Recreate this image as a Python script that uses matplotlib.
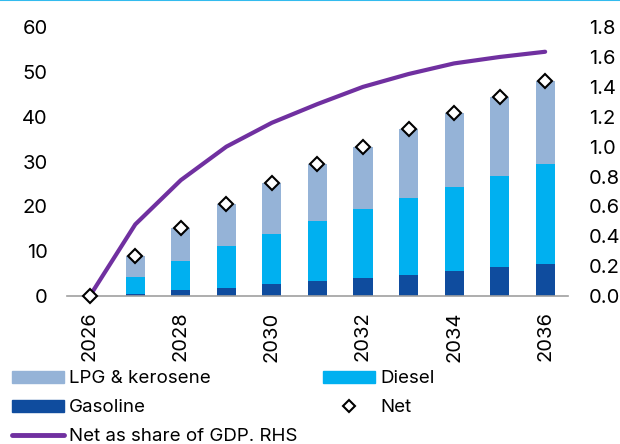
import numpy as np
import matplotlib
matplotlib.use("Agg")
import matplotlib.pyplot as plt
from matplotlib.lines import Line2D
from matplotlib.patches import Patch

plt.rcParams['font.family'] = ['Inter', 'DejaVu Sans']

years = [2026, 2027, 2028, 2029, 2030, 2031, 2032, 2033, 2034, 2035, 2036]
gasoline = [0.0, 0.4, 1.3, 1.9, 2.6, 3.3, 4.1, 4.8, 5.6, 6.4, 7.2]
diesel = [0.0, 3.9, 6.6, 9.3, 11.3, 13.4, 15.3, 17.1, 18.8, 20.5, 22.2]
lpg_kerosene = [0.0, 4.6, 7.3, 9.3, 11.3, 12.7, 13.9, 15.3, 16.4, 17.6, 18.6]
net = [0.0, 8.9, 15.2, 20.5, 25.2, 29.4, 33.3, 37.2, 40.8, 44.5, 48.0]
net_gdp = [0.0, 0.48, 0.776, 1.0, 1.16, 1.285, 1.40, 1.486, 1.557, 1.60, 1.635]

c_lpg = '#95B3D7'
c_diesel = '#00B0F0'
c_gas = '#0F4C9E'
c_line = '#7030A0'

fig = plt.figure(figsize=(6.2, 4.44), dpi=100)
ax = fig.add_axes([0.108, 0.333, 0.808, 0.606])
x = np.arange(len(years))
w = 0.42
g = np.array(gasoline)
d = np.array(diesel)
l = np.array(lpg_kerosene)
ax.bar(x, g, w, color=c_gas, zorder=2)
ax.bar(x, d, w, bottom=g, color=c_diesel, zorder=2)
ax.bar(x, l, w, bottom=g + d, color=c_lpg, zorder=2)

ax.set_xlim(-0.5, len(years) - 0.5)
ax.set_ylim(0, 60)
ax.set_yticks(range(0, 61, 10))
ax.set_xticks(x[::2])
ax.set_xticklabels([str(y) for y in years[::2]], rotation=90)
for s in ['top', 'left', 'right']:
    ax.spines[s].set_visible(False)
ax.spines['bottom'].set_color('#A0A0A0')
ax.spines['bottom'].set_linewidth(1.2)
ax.tick_params(axis='y', length=0, pad=14, labelsize=14.5)
ax.tick_params(axis='x', length=0, pad=11, labelsize=14.5)

ax2 = ax.twinx()
ax2.set_ylim(0, 1.8)
ax2.set_yticks(np.arange(0, 1.81, 0.2))
ax2.set_yticklabels([f"{v:.1f}" for v in np.arange(0, 1.81, 0.2)])
for s in ['top', 'left', 'right', 'bottom']:
    ax2.spines[s].set_visible(False)
ax2.tick_params(axis='y', length=0, pad=15, labelsize=14.5)
ax2.plot(x, net_gdp, color=c_line, lw=3, solid_capstyle='round', clip_on=False, zorder=3)
ax2.plot(x, np.array(net) / 60 * 1.8, 'D', ms=7, mfc='white', mec='black', mew=1.5,
         clip_on=False, zorder=4)

fig.add_artist(Line2D([0, 1], [0.999, 0.999], color='#33BBEE', lw=1.5))

handles = [
    Patch(color=c_lpg, label='LPG & kerosene'),
    Patch(color=c_gas, label='Gasoline'),
    Line2D([], [], color=c_line, lw=3.5, solid_capstyle='round', label='Net as share of GDP. RHS'),
    Patch(color=c_diesel, label='Diesel'),
    Line2D([], [], marker='D', ls='none', ms=6, mfc='white', mec='black', mew=1.5, label='Net'),
]
fig.legend(handles=handles, ncol=2, loc='upper left', bbox_to_anchor=(0.019, 0.166),
           frameon=False, fontsize=13.5, handlelength=2.77, handleheight=0.64,
           handletextpad=0.27, columnspacing=1.4, labelspacing=0.64, borderaxespad=0,
           borderpad=0.0)

fig.savefig('out.png', dpi=100)
